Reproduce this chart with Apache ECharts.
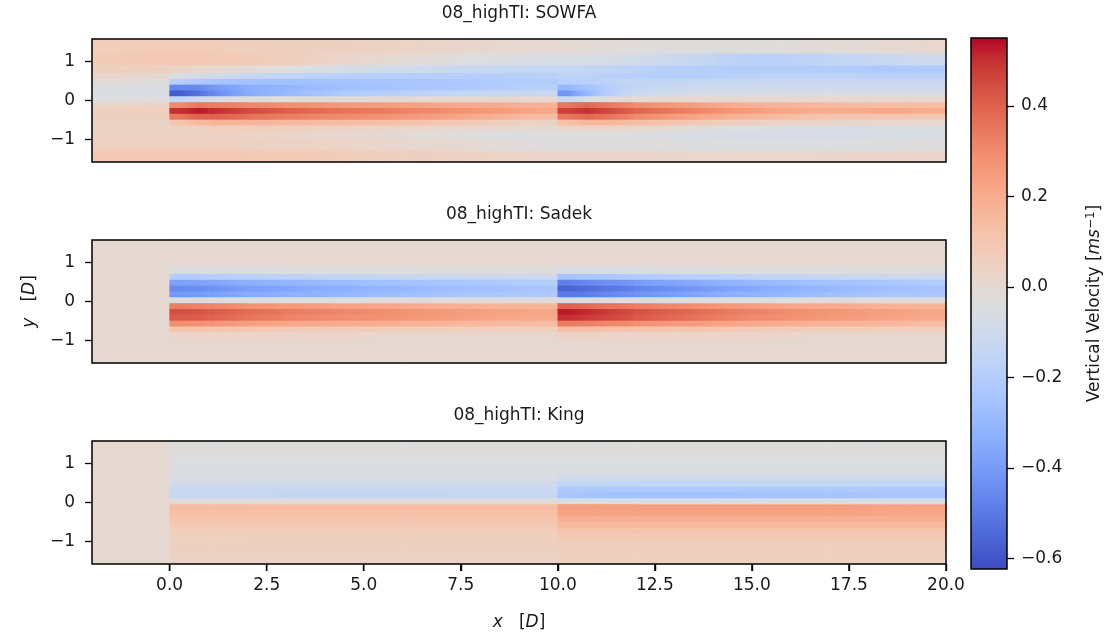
<!DOCTYPE html>
<html><head><meta charset="utf-8">
<script src="https://cdn.jsdelivr.net/npm/echarts@6/dist/echarts.min.js"></script>
<style>html,body{margin:0;padding:0;background:#fff}#c{width:1110px;height:637px}</style>
</head><body><div id="c"></div>
<script>
// ---------- data ----------
const panelTitles = ['08_highTI: SOWFA', '08_highTI: Sadek', '08_highTI: King'];
// cell edges (x in D, y in D, y from top to bottom)
const xEdges = [-2,-1,0,0.5,1,1.5,2,3,4,5,6,7,8,9,10,10.5,11,11.5,12,13,14,15,16,17,18,19,20];
const yEdges = [1.58,1.2,0.9,0.7,0.55,0.4,0.25,0.1,-0.05,-0.2,-0.35,-0.5,-0.65,-0.8,-1.0,-1.3,-1.58];
const turbineX = [0, 10];
const xTicks = [0,2.5,5,7.5,10,12.5,15,17.5,20];
const yTicks = [-1,0,1];
const cbTicks = [-0.6,-0.4,-0.2,0,0.2,0.4];
const vMin = -0.623, vMax = 0.55;

// vertical velocity [m/s], rows top->bottom, columns left->right
const sowfa = [
 [0.07,0.07,0.07,0.07,0.07,0.06,0.06,0.05,0.05,0.04,0.03,0.02,0.01,0.00,0.00,-0.01,-0.02,-0.02,-0.03,-0.03,-0.03,-0.03,-0.02,-0.02,0.00,0.01],
 [0.08,0.09,0.09,0.09,0.08,0.08,0.07,0.05,0.02,0.00,-0.02,-0.04,-0.05,-0.06,-0.06,-0.06,-0.07,-0.08,-0.10,-0.13,-0.17,-0.18,-0.16,-0.14,-0.12,-0.10],
 [0.05,0.05,0.03,0.02,0.01,0.00,-0.02,-0.05,-0.07,-0.09,-0.10,-0.12,-0.13,-0.14,-0.14,-0.14,-0.15,-0.16,-0.18,-0.19,-0.20,-0.20,-0.20,-0.21,-0.22,-0.21],
 [0.02,0.00,-0.05,-0.07,-0.09,-0.11,-0.14,-0.16,-0.18,-0.19,-0.19,-0.19,-0.19,-0.18,-0.17,-0.17,-0.18,-0.18,-0.19,-0.19,-0.18,-0.17,-0.17,-0.17,-0.18,-0.18],
 [-0.02,-0.03,-0.18,-0.22,-0.24,-0.25,-0.26,-0.26,-0.25,-0.24,-0.23,-0.22,-0.21,-0.20,-0.18,-0.18,-0.17,-0.15,-0.15,-0.14,-0.13,-0.12,-0.12,-0.12,-0.12,-0.12],
 [-0.04,-0.05,-0.46,-0.45,-0.40,-0.36,-0.32,-0.29,-0.27,-0.25,-0.23,-0.22,-0.20,-0.18,-0.30,-0.25,-0.20,-0.16,-0.13,-0.11,-0.10,-0.10,-0.10,-0.10,-0.10,-0.10],
 [-0.05,-0.06,-0.58,-0.52,-0.44,-0.38,-0.32,-0.27,-0.22,-0.19,-0.16,-0.14,-0.12,-0.12,-0.42,-0.30,-0.20,-0.14,-0.09,-0.07,-0.07,-0.06,-0.06,-0.06,-0.06,-0.06],
 [-0.04,-0.03,-0.15,-0.10,-0.06,-0.04,-0.03,-0.02,-0.02,-0.01,0.00,0.00,0.00,0.01,-0.12,-0.06,-0.03,-0.01,0.00,0.00,0.00,0.01,0.01,0.01,0.02,0.02],
 [0.03,0.04,0.30,0.35,0.33,0.32,0.30,0.28,0.26,0.25,0.23,0.21,0.20,0.18,0.35,0.38,0.35,0.32,0.28,0.24,0.20,0.18,0.16,0.15,0.14,0.14],
 [0.05,0.06,0.50,0.53,0.50,0.47,0.43,0.39,0.36,0.34,0.31,0.28,0.25,0.22,0.47,0.50,0.46,0.42,0.37,0.32,0.27,0.23,0.20,0.20,0.22,0.20],
 [0.05,0.05,0.35,0.40,0.40,0.38,0.35,0.32,0.30,0.28,0.25,0.22,0.18,0.14,0.35,0.38,0.36,0.33,0.28,0.23,0.18,0.15,0.12,0.10,0.10,0.09],
 [0.04,0.04,0.10,0.15,0.17,0.17,0.16,0.15,0.14,0.13,0.11,0.09,0.06,0.04,0.12,0.16,0.16,0.15,0.12,0.09,0.06,0.04,0.03,0.02,0.01,0.01],
 [0.04,0.04,0.04,0.05,0.06,0.06,0.06,0.05,0.04,0.03,0.02,0.01,0.00,-0.01,0.02,0.03,0.03,0.02,0.00,-0.02,-0.04,-0.05,-0.06,-0.06,-0.06,-0.06],
 [0.04,0.04,0.04,0.04,0.04,0.04,0.03,0.02,0.01,0.00,-0.02,-0.03,-0.04,-0.04,-0.04,-0.04,-0.04,-0.05,-0.05,-0.06,-0.07,-0.07,-0.07,-0.07,-0.06,-0.06],
 [0.05,0.05,0.05,0.05,0.05,0.05,0.04,0.04,0.03,0.02,0.01,0.00,-0.02,-0.03,-0.03,-0.03,-0.03,-0.03,-0.03,-0.04,-0.04,-0.04,-0.04,-0.04,-0.04,-0.03],
 [0.09,0.09,0.09,0.09,0.09,0.09,0.08,0.08,0.07,0.06,0.05,0.04,0.03,0.02,0.02,0.02,0.02,0.02,0.02,0.01,0.01,0.01,0.01,0.02,0.02,0.02]
];
const sadek = [
 [0,0,0,0,0,0,0,0,0,0,0,0,0,0,0,0,0,0,0,0,0,0,0,0,0,0],
 [0,0,0,0,0,0,0,0,0,0,0,0,0,0,0,0,0,0,0,0,0,0,0,0,0,0],
 [0,0,-0.05,-0.05,-0.05,-0.05,-0.05,-0.04,-0.04,-0.04,-0.03,-0.03,-0.03,-0.03,-0.07,-0.06,-0.06,-0.06,-0.05,-0.05,-0.04,-0.04,-0.04,-0.03,-0.03,-0.03],
 [0,0,-0.20,-0.20,-0.19,-0.18,-0.17,-0.16,-0.15,-0.14,-0.13,-0.12,-0.12,-0.11,-0.25,-0.24,-0.23,-0.22,-0.20,-0.18,-0.17,-0.15,-0.14,-0.13,-0.12,-0.11],
 [0,0,-0.38,-0.37,-0.36,-0.34,-0.32,-0.30,-0.28,-0.26,-0.25,-0.23,-0.22,-0.20,-0.48,-0.46,-0.43,-0.42,-0.38,-0.35,-0.31,-0.29,-0.26,-0.25,-0.23,-0.21],
 [0,0,-0.45,-0.44,-0.42,-0.40,-0.38,-0.35,-0.33,-0.31,-0.29,-0.27,-0.26,-0.24,-0.56,-0.54,-0.51,-0.49,-0.45,-0.41,-0.37,-0.34,-0.31,-0.29,-0.27,-0.25],
 [0,0,-0.41,-0.40,-0.38,-0.36,-0.34,-0.32,-0.30,-0.28,-0.26,-0.24,-0.23,-0.22,-0.50,-0.49,-0.46,-0.44,-0.41,-0.37,-0.33,-0.31,-0.28,-0.26,-0.24,-0.23],
 [0,0,-0.05,-0.05,-0.05,-0.04,-0.04,-0.04,-0.04,-0.03,-0.03,-0.03,-0.03,-0.03,-0.06,-0.06,-0.05,-0.05,-0.05,-0.04,-0.04,-0.04,-0.03,-0.03,-0.03,-0.03],
 [0,0,0.33,0.32,0.31,0.29,0.27,0.25,0.23,0.22,0.20,0.19,0.17,0.17,0.40,0.38,0.36,0.35,0.32,0.29,0.26,0.23,0.21,0.20,0.18,0.17],
 [0,0,0.44,0.43,0.41,0.39,0.36,0.33,0.31,0.29,0.27,0.25,0.23,0.22,0.53,0.51,0.48,0.46,0.42,0.38,0.34,0.31,0.28,0.26,0.24,0.22],
 [0,0,0.42,0.41,0.39,0.37,0.34,0.31,0.29,0.28,0.26,0.24,0.22,0.21,0.50,0.48,0.46,0.44,0.40,0.36,0.32,0.29,0.27,0.25,0.23,0.21],
 [0,0,0.29,0.28,0.27,0.25,0.23,0.21,0.20,0.19,0.18,0.16,0.15,0.14,0.34,0.33,0.31,0.30,0.27,0.25,0.22,0.20,0.18,0.17,0.16,0.14],
 [0,0,0.11,0.11,0.10,0.10,0.09,0.08,0.08,0.07,0.07,0.06,0.06,0.06,0.13,0.13,0.12,0.12,0.11,0.10,0.09,0.08,0.07,0.07,0.06,0.06],
 [0,0,0.02,0.02,0.02,0.02,0.02,0.02,0.02,0.01,0.01,0.01,0.01,0.01,0.03,0.03,0.02,0.02,0.02,0.02,0.02,0.02,0.01,0.01,0.01,0.01],
 [0,0,0,0,0,0,0,0,0,0,0,0,0,0,0,0,0,0,0,0,0,0,0,0,0,0],
 [0,0,0,0,0,0,0,0,0,0,0,0,0,0,0,0,0,0,0,0,0,0,0,0,0,0]
];
const king = [
 [0,0,-0.03,-0.03,-0.03,-0.03,-0.03,-0.03,-0.03,-0.03,-0.03,-0.03,-0.03,-0.03,-0.03,-0.03,-0.03,-0.03,-0.03,-0.03,-0.03,-0.03,-0.03,-0.03,-0.03,-0.03],
 [0,0,-0.04,-0.04,-0.04,-0.04,-0.04,-0.04,-0.04,-0.04,-0.04,-0.04,-0.04,-0.04,-0.04,-0.04,-0.04,-0.04,-0.04,-0.04,-0.04,-0.04,-0.04,-0.04,-0.04,-0.04],
 [0,0,-0.05,-0.05,-0.05,-0.05,-0.05,-0.05,-0.05,-0.05,-0.05,-0.05,-0.05,-0.05,-0.05,-0.05,-0.05,-0.05,-0.05,-0.05,-0.05,-0.05,-0.05,-0.05,-0.05,-0.05],
 [0,0,-0.06,-0.06,-0.06,-0.06,-0.06,-0.06,-0.06,-0.06,-0.06,-0.06,-0.06,-0.06,-0.09,-0.09,-0.09,-0.09,-0.09,-0.09,-0.09,-0.09,-0.09,-0.09,-0.09,-0.09],
 [0,0,-0.09,-0.09,-0.09,-0.09,-0.09,-0.09,-0.09,-0.09,-0.09,-0.09,-0.09,-0.09,-0.15,-0.15,-0.15,-0.15,-0.15,-0.15,-0.15,-0.15,-0.15,-0.15,-0.15,-0.15],
 [0,0,-0.12,-0.12,-0.12,-0.12,-0.12,-0.12,-0.12,-0.12,-0.12,-0.12,-0.12,-0.12,-0.22,-0.22,-0.22,-0.22,-0.22,-0.22,-0.22,-0.22,-0.22,-0.22,-0.22,-0.22],
 [0,0,-0.13,-0.13,-0.13,-0.13,-0.13,-0.14,-0.14,-0.14,-0.14,-0.13,-0.13,-0.13,-0.24,-0.25,-0.26,-0.26,-0.26,-0.26,-0.26,-0.25,-0.25,-0.25,-0.24,-0.24],
 [0,0,-0.03,-0.03,-0.03,-0.03,-0.03,-0.03,-0.03,-0.03,-0.03,-0.03,-0.03,-0.03,-0.06,-0.06,-0.06,-0.06,-0.06,-0.06,-0.06,-0.06,-0.06,-0.06,-0.06,-0.06],
 [0,0,0.14,0.14,0.14,0.14,0.14,0.14,0.14,0.14,0.14,0.14,0.14,0.14,0.24,0.24,0.24,0.24,0.24,0.24,0.24,0.24,0.24,0.24,0.23,0.23],
 [0,0,0.13,0.13,0.13,0.13,0.13,0.13,0.13,0.13,0.13,0.13,0.13,0.13,0.23,0.23,0.23,0.23,0.23,0.23,0.23,0.23,0.23,0.23,0.22,0.22],
 [0,0,0.11,0.11,0.11,0.11,0.11,0.11,0.11,0.11,0.11,0.11,0.11,0.11,0.19,0.19,0.19,0.19,0.19,0.19,0.19,0.19,0.19,0.19,0.19,0.19],
 [0,0,0.09,0.09,0.09,0.09,0.09,0.09,0.09,0.09,0.09,0.09,0.09,0.09,0.15,0.15,0.15,0.15,0.15,0.15,0.15,0.15,0.15,0.15,0.15,0.15],
 [0,0,0.07,0.07,0.07,0.07,0.07,0.07,0.07,0.07,0.07,0.07,0.07,0.07,0.12,0.12,0.12,0.12,0.12,0.12,0.12,0.12,0.12,0.12,0.12,0.12],
 [0,0,0.06,0.06,0.06,0.06,0.06,0.06,0.06,0.06,0.06,0.06,0.06,0.06,0.09,0.09,0.09,0.09,0.09,0.09,0.09,0.09,0.09,0.09,0.09,0.09],
 [0,0,0.05,0.05,0.05,0.05,0.05,0.05,0.05,0.05,0.05,0.05,0.05,0.05,0.06,0.06,0.06,0.06,0.06,0.06,0.06,0.06,0.06,0.06,0.06,0.06],
 [0,0,0.04,0.04,0.04,0.04,0.04,0.04,0.04,0.04,0.04,0.04,0.04,0.04,0.05,0.05,0.05,0.05,0.05,0.05,0.05,0.05,0.05,0.05,0.05,0.05]
];

// ---------- style ----------
const coolwarm = ['#3b4cc0','#445acc','#4d68d7','#5775e1','#6282ea','#6c8ef1','#779af7','#82a5fb','#8db0fe','#98b9ff','#a3c2ff','#aec9fd','#b8d0f9','#c2d5f4','#ccd9ee','#d5dbe6','#dddddd','#e5d8d1','#ecd3c5','#f1ccb9','#f5c4ad','#f7bba0','#f7b194','#f7a687','#f49a7b','#f18d6f','#ec7f63','#e57058','#de604d','#d55042','#cb3e38','#c0282f','#b40426'];
const FONT = 'DejaVu Sans';
const TXT = '#1a1a1a';
const G = {left: 92, width: 854, height: 123};
const tops = [39, 240, 441];
const Y_MIN = -1.58, Y_MAX = 1.58;
const TICK_LEN = 7;
const minus = s => s.replace('-', '\u2212');
const mats = [sowfa, sadek, king];
const nCols = xEdges.length - 1;

function cells(m) {
  const out = [];
  for (let r = 0; r < m.length; r++)
    for (let c = 0; c < m[r].length; c++)
      out.push([xEdges[c], xEdges[c + 1], yEdges[r + 1], yEdges[r], m[r][c]]);
  return out;
}
const cmap = v => echarts.color.lerp(Math.max(0, Math.min(1, (v - vMin) / (vMax - vMin))), coolwarm);
// shading inside one cell: blend toward the neighbouring cells at the side edges (not across a rotor plane)
function renderCell(params, api) {
  const p0 = api.coord([api.value(0), api.value(3)]);
  const p1 = api.coord([api.value(1), api.value(2)]);
  const col = api.visual('color');
  const m = mats[params.seriesIndex];
  const r = Math.floor(params.dataIndex / nCols), c = params.dataIndex % nCols;
  const v = m[r][c];
  const leftOpen = c > 0 && turbineX.indexOf(xEdges[c]) < 0;
  const rightOpen = c < nCols - 1 && turbineX.indexOf(xEdges[c + 1]) < 0;
  const cl = leftOpen ? cmap((v + m[r][c - 1]) / 2) : col;
  const cr = rightOpen ? cmap((v + m[r][c + 1]) / 2) : col;
  const fill = new echarts.graphic.LinearGradient(0, 0, 1, 0,
    [{offset: 0, color: cl}, {offset: 0.5, color: col}, {offset: 1, color: cr}]);
  return {type: 'rect', shape: {x: p0[0] - 0.3, y: p0[1] - 0.3, width: p1[0] - p0[0] + 0.6, height: p1[1] - p0[1] + 0.6},
          style: {fill: fill}};
}
function renderBar(params, api) {
  const p0 = api.coord([api.value(0), api.value(3)]);
  const p1 = api.coord([api.value(1), api.value(2)]);
  const stops = coolwarm.map((c, i) => ({offset: i / (coolwarm.length - 1), color: c}));
  return {type: 'rect', shape: {x: p0[0], y: p0[1], width: p1[0] - p0[0], height: p1[1] - p0[1]},
          style: {fill: new echarts.graphic.LinearGradient(0, 1, 0, 0, stops)}};
}
// x tick marks below the bottom panel, placed with the x scale
function renderXTick(params, api) {
  const p = api.coord([api.value(0), api.value(1)]);
  return {type: 'rect', shape: {x: p[0] - 0.7, y: p[1], width: 1.4, height: TICK_LEN},
          style: {fill: '#000'}};
}

const grids = tops.map(t => ({left: G.left, top: t, width: G.width, height: G.height, show: true,
  z: 10, backgroundColor: 'transparent', borderColor: '#000', borderWidth: 1.5}));
grids.push({left: 971, top: 38, width: 36, height: 531, show: true, z: 10,
  backgroundColor: 'transparent', borderColor: '#000', borderWidth: 1.5});

const rich = {i: {fontStyle: 'italic', fontFamily: FONT, fontSize: 17, color: TXT},
              n: {fontFamily: FONT, fontSize: 17, color: TXT},
              sup: {fontFamily: FONT, fontSize: 12, color: TXT, verticalAlign: 'top', padding: [0, 0, 8, 0]}};

const xAxes = tops.map((t, i) => ({
  type: 'value', gridIndex: i, position: 'bottom', min: -2, max: 20, z: 12,
  axisLine: {show: false, onZero: false},
  splitLine: {show: false},
  axisTick: {show: i === 2, customValues: xTicks, length: TICK_LEN, lineStyle: {color: '#000', width: 1.4}},
  axisLabel: {show: i === 2, customValues: xTicks, formatter: v => minus(v.toFixed(1)),
              fontSize: 17, fontFamily: FONT, color: TXT, margin: 13},
  name: i === 2 ? '{i|x}{n|   [}{i|D}{n|]}' : '', nameLocation: 'middle', nameGap: 50,
  nameTextStyle: {rich}
}));
xAxes.push({type: 'value', gridIndex: 3, min: 0, max: 1, show: false, axisLine: {onZero: false}});

const yAxes = tops.map((t, i) => ({
  type: 'value', gridIndex: i, min: Y_MIN, max: Y_MAX, z: 12,
  axisLine: {show: false, onZero: false}, splitLine: {show: false},
  axisTick: {show: true, customValues: yTicks, length: TICK_LEN, lineStyle: {color: '#000', width: 1.3}},
  axisLabel: {customValues: yTicks, formatter: v => minus(String(v)),
              fontSize: 17, fontFamily: FONT, color: TXT, margin: 17},
  name: i === 1 ? '{i|y}{n|   [}{i|D}{n|]}' : '', nameLocation: 'middle', nameGap: 54, nameRotate: 90,
  nameTextStyle: {rich}
}));
yAxes.push({
  type: 'value', gridIndex: 3, position: 'right', min: vMin, max: vMax, z: 12,
  axisLine: {show: false, onZero: false}, splitLine: {show: false},
  axisTick: {show: true, customValues: cbTicks, length: TICK_LEN, lineStyle: {color: '#000', width: 1.3}},
  axisLabel: {customValues: cbTicks, formatter: v => minus(v.toFixed(1)),
              fontSize: 17, fontFamily: FONT, color: TXT, margin: 14},
  name: '{n|Vertical Velocity [}{i|ms}{sup|\u22121}{n|]}', nameLocation: 'middle', nameGap: 78, nameRotate: 90,
  nameTextStyle: {rich}
});

const series = mats.map((m, i) => ({
  type: 'custom', xAxisIndex: i, yAxisIndex: i, renderItem: renderCell,
  encode: {x: [0, 1], y: [2, 3]}, data: cells(m), silent: true, animation: false
}));
series.push({type: 'custom', xAxisIndex: 3, yAxisIndex: 3, renderItem: renderBar,
  encode: {x: [0, 1], y: [2, 3]}, data: [[0, 1, vMin, vMax]], silent: true, animation: false});
series.push({type: 'custom', xAxisIndex: 2, yAxisIndex: 2, renderItem: renderXTick, clip: false, z: 20, zlevel: 1,
  encode: {x: 0, y: 1}, data: xTicks.map(v => [v, Y_MIN]), silent: true, animation: false});

const chart = echarts.init(document.getElementById('c'), null, {renderer: 'canvas'});
chart.setOption({
  animation: false,
  backgroundColor: '#fff',
  grid: grids, xAxis: xAxes, yAxis: yAxes,
  visualMap: {type: 'continuous', show: false, dimension: 4, min: vMin, max: vMax,
              seriesIndex: [0, 1, 2], inRange: {color: coolwarm}},
  graphic: panelTitles.map((t, i) => ({
    type: 'text', x: G.left + G.width / 2, y: tops[i] - 25,
    style: {text: t, textAlign: 'center', textVerticalAlign: 'middle', fontSize: 17, fontFamily: FONT, fill: TXT}
  })),
  series
});
</script></body></html>
